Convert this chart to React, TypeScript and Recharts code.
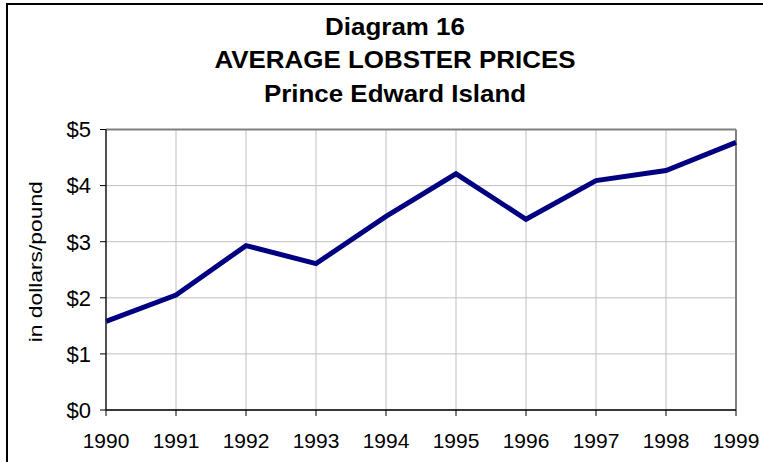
import { CartesianGrid, Label, Line, LineChart, ReferenceLine, XAxis, YAxis } from 'recharts';

const years = [1990, 1991, 1992, 1993, 1994, 1995, 1996, 1997, 1998, 1999];
const prices = [1.58, 2.05, 2.93, 2.61, 3.45, 4.21, 3.4, 4.09, 4.27, 4.77];
const priceTicks = [0, 1, 2, 3, 4, 5];
const titleLines = ['Diagram 16', 'AVERAGE LOBSTER PRICES', 'Prince Edward Island'];

const data = years.map((year, i) => ({ year, price: prices[i] }));

const font = '"Liberation Sans", Arial, sans-serif';

function YAxisTitle({ viewBox }: any) {
    const cx = viewBox.x + 35;
    const cy = viewBox.y + viewBox.height / 2 - 8;
    return (
        <text
            x={cx}
            y={cy}
            transform={`rotate(-90 ${cx} ${cy})`}
            textAnchor="middle"
            dominantBaseline="central"
            fontFamily={font}
            fontSize={19}
            fill="#000"
            textLength={161}
            lengthAdjust="spacingAndGlyphs"
        >
            in dollars/pound
        </text>
    );
}

export default function App() {
    return (
        <div style={{ position: 'relative', width: 763, height: 462, overflow: 'hidden', background: '#fff' }}>
            <style>{'body{margin:0}'}</style>
            <div
                style={{
                    position: 'absolute',
                    left: 6,
                    top: 3,
                    width: 800,
                    height: 500,
                    borderLeft: '2px solid #000',
                    borderTop: '2px solid #000',
                }}
            />
            <div
                style={{
                    position: 'absolute',
                    left: 0,
                    top: 9.5,
                    width: 790,
                    textAlign: 'center',
                    fontFamily: font,
                    fontWeight: 'bold',
                    fontSize: 24,
                    lineHeight: '33.5px',
                    transform: 'scaleX(1.08)',
                    transformOrigin: '395px 0',
                }}
            >
                {titleLines.map((t) => (
                    <div key={t}>{t}</div>
                ))}
            </div>
            <div style={{ position: 'absolute', left: 0, top: 0 }}>
                <LineChart
                    width={763}
                    height={462}
                    data={data}
                    margin={{ top: 129.5, right: 27, bottom: 22, left: 0 }}
                >
                    <CartesianGrid stroke="#c0c0c0" strokeWidth={1} />
                    <XAxis
                        dataKey="year"
                        type="number"
                        domain={[1990, 1999]}
                        ticks={years}
                        height={30}
                        tickSize={6}
                        tickMargin={17}
                        axisLine={{ stroke: '#000', strokeWidth: 1.5 }}
                        tickLine={{ stroke: '#000' }}
                        tick={{ fill: '#000', fontSize: 21, fontFamily: font }}
                        interval={0}
                    />
                    <YAxis
                        domain={[0, 5]}
                        ticks={priceTicks}
                        width={106}
                        tickSize={6}
                        tickMargin={9}
                        tickFormatter={(v) => `$${v}`}
                        axisLine={{ stroke: '#222', strokeWidth: 1.5 }}
                        tickLine={{ stroke: '#000' }}
                        tick={{ fill: '#000', fontSize: 22, fontFamily: font }}
                    >
                        <Label content={<YAxisTitle />} />
                    </YAxis>
                    <ReferenceLine y={5} stroke="#808080" strokeWidth={2} />
                    <ReferenceLine x={1999} stroke="#808080" strokeWidth={2} />
                    <Line
                        type="linear"
                        dataKey="price"
                        stroke="#000080"
                        strokeWidth={5}
                        dot={false}
                        isAnimationActive={false}
                    />
                </LineChart>
            </div>
        </div>
    );
}
